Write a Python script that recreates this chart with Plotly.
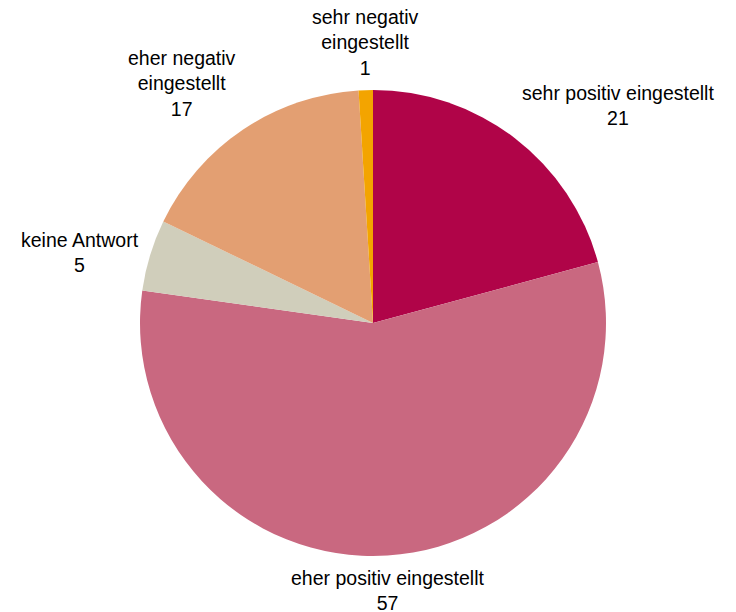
import math
import plotly.graph_objects as go

# Survey answers, clockwise from 12 o'clock
categories = [
    "sehr positiv eingestellt",
    "eher positiv eingestellt",
    "keine Antwort",
    "eher negativ eingestellt",
    "sehr negativ eingestellt",
]
display_names = [
    "sehr positiv eingestellt",
    "eher positiv eingestellt",
    "keine Antwort",
    "eher negativ<br>eingestellt",
    "sehr negativ<br>eingestellt",
]
values = [21, 57, 5, 17, 1]
colors = ["#B00448", "#C96880", "#D0CEBB", "#E39F72", "#F3A400"]

W, H = 736, 612
FONT = dict(family="Liberation Sans, Arial, sans-serif", size=19.5, color="#000000")

# Pie placement in pixels (square domain)
cx, cy, r = 373, 323, 233
dom_x = [(cx - r) / W, (cx + r) / W]
dom_y = [(H - cy - r) / H, (H - cy + r) / H]

fig = go.Figure(
    go.Pie(
        labels=categories,
        values=values,
        textinfo="none",
        marker=dict(colors=colors, line=dict(width=0)),
        sort=False,
        direction="clockwise",
        rotation=0,
        showlegend=False,
        hoverinfo="label+value",
        domain=dict(x=dom_x, y=dom_y),
    )
)

# Outside labels placed along each slice's mid-angle
total = sum(values)
label_r = r * 1.04
cum = 0.0
annotations = []
for name, v in zip(display_names, values):
    mid = (cum + v / 2) / total * 2 * math.pi
    cum += v
    s, c = math.sin(mid), math.cos(mid)
    px = cx + label_r * s
    py = cy - label_r * c
    xanchor = "left" if s > 0.4 else ("right" if s < -0.4 else "center")
    yanchor = "bottom" if c > 0.4 else ("top" if c < -0.4 else "middle")
    annotations.append(
        dict(
            x=px / W,
            y=1 - py / H,
            xref="paper",
            yref="paper",
            text=f"{name}<br>{v}",
            showarrow=False,
            xanchor=xanchor,
            yanchor=yanchor,
            align="center",
            font=FONT,
        )
    )

fig.update_layout(
    width=W,
    height=H,
    margin=dict(l=0, r=0, t=0, b=0),
    paper_bgcolor="white",
    plot_bgcolor="white",
    annotations=annotations,
)

fig.write_html("out.html")
